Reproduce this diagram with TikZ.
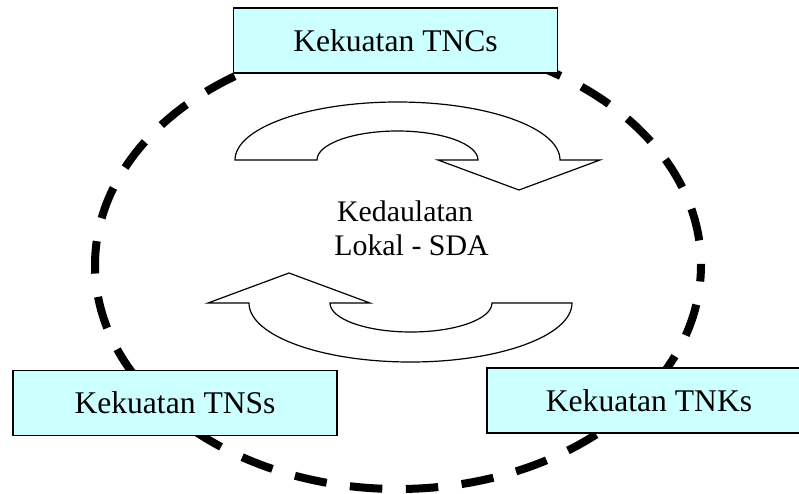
\documentclass[tikz,border=0pt]{standalone}
\usepackage{fontspec}
\setmainfont{Liberation Serif}
\definecolor{boxcyan}{HTML}{CCFFFF}
\begin{document}
\begin{tikzpicture}[x=0.75pt,y=-0.75pt,
  powerbox/.style={draw=black,line width=1pt,fill=boxcyan,inner sep=0pt,
    minimum width=243pt,minimum height=48.75pt,
    font=\fontsize{23.7}{28}\selectfont},
  midtext/.style={anchor=base,inner sep=0pt,font=\fontsize{22.4}{27}\selectfont},
  arrowshape/.style={draw=black,line width=0.9pt,fill=white,line join=miter},
  dashring/.style={draw=black,line width=6pt,dash pattern=on 24.375pt off 17.625pt,dash phase=12pt}]
\useasboundingbox (0,0) rectangle (799,493);
% dashed ellipse
\draw[dashring] (398,265) ellipse [x radius=303, y radius=224];
% top curved arrow
\draw[arrowshape] (235,160) arc[start angle=180, end angle=360, x radius=162.5, y radius=58]
  -- (600,160) -- (519,190) -- (438,160) -- (478,160)
  arc[start angle=0, end angle=-180, x radius=80.5, y radius=29] -- cycle;
% bottom curved arrow
\draw[arrowshape] (572,303) arc[start angle=0, end angle=180, x radius=161.5, y radius=59]
  -- (208,303) -- (289,273) -- (370,303) -- (330,303)
  arc[start angle=180, end angle=0, x radius=81, y radius=29] -- cycle;
% centre text
\node[midtext] (k1) at (405,221) {Kedaulatan};
\node[midtext] (k2) at (411.5,255) {Lokal - SDA};
% boxes
\node[powerbox] (tnc) at (395.5,40.5) {Kekuatan TNCs};
\node[powerbox] (tns) at (175,403) {Kekuatan TNSs};
\node[powerbox] (tnk) at (649,400.5) {Kekuatan TNKs};
\end{tikzpicture}
\end{document}
